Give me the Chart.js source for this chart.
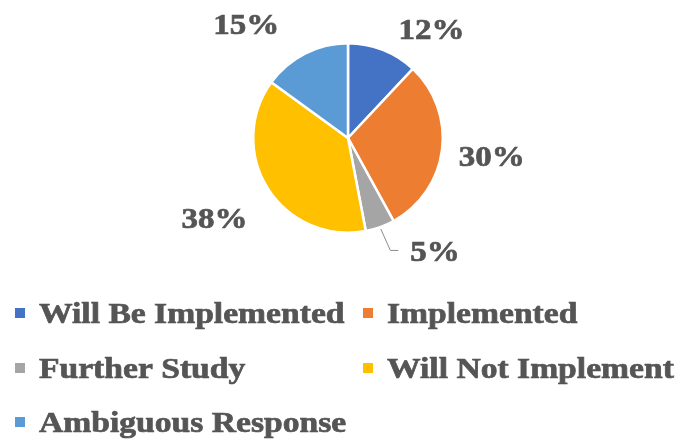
<!DOCTYPE html>
<html>
<head>
<meta charset="utf-8">
<script src="https://cdn.jsdelivr.net/npm/chart.js@4/dist/chart.umd.min.js"></script>
<style>
  html, body { margin: 0; padding: 0; background: #fff; }
  canvas { display: block; }
</style>
</head>
<body>
<canvas id="responseChart" width="678" height="441"></canvas>
<script>
const categories = ['Will Be Implemented', 'Implemented', 'Further Study', 'Will Not Implement', 'Ambiguous Response'];
const shares = [12, 30, 5, 38, 15];
const sliceColors = ['#4472C4', '#ED7D31', '#A5A5A5', '#FFC000', '#5B9BD5'];

const TEXT_COLOR = '#555555';
const FONT = 'bold 30px "Liberation Serif", "Times New Roman", serif';

// Excel "best fit" labels: push along the slice mid angle, then nudge
const labelStyle = {
  dist: 145,
  nudge: [[30, 26], [0, 0], [38, -23], [-11, 2], [-36, 15]],
  leader: [false, false, true, false, false],
};

// heavier text, like the blurred bold Times in the original
function boldText(ctx, text, x, y, sx) {
  ctx.save();
  ctx.translate(x, y);
  ctx.scale(sx, 1);
  ctx.fillText(text, 0, 0);
  ctx.lineWidth = 0.7;
  ctx.strokeStyle = ctx.fillStyle;
  ctx.strokeText(text, 0, 0);
  ctx.restore();
}

const outsideLabels = {
  id: 'outsideLabels',
  afterDatasetsDraw(chart) {
    const ctx = chart.ctx;
    const arcs = chart.getDatasetMeta(0).data;
    const total = shares.reduce((a, b) => a + b, 0);
    ctx.save();
    ctx.font = FONT;
    ctx.fillStyle = TEXT_COLOR;
    ctx.textAlign = 'center';
    ctx.textBaseline = 'alphabetic';
    arcs.forEach((arc, i) => {
      const { x, y, startAngle, endAngle, outerRadius } = arc.getProps(['x', 'y', 'startAngle', 'endAngle', 'outerRadius'], true);
      const mid = (startAngle + endAngle) / 2;
      const cx = x + Math.cos(mid) * labelStyle.dist + labelStyle.nudge[i][0];
      const cy = y + Math.sin(mid) * labelStyle.dist + labelStyle.nudge[i][1];
      const text = Math.round(shares[i] / total * 100) + '%';
      const w = ctx.measureText(text).width * 1.1;
      if (labelStyle.leader[i]) {
        const left = cx - w / 2;
        ctx.save();
        ctx.strokeStyle = '#8C8C8C';
        ctx.lineWidth = 1;
        ctx.beginPath();
        ctx.moveTo(x + Math.cos(mid) * (outerRadius + 2), y + Math.sin(mid) * (outerRadius + 2));
        ctx.lineTo(left - 20, cy - 1);
        ctx.lineTo(left - 12, cy - 1);
        ctx.stroke();
        ctx.restore();
      }
      boldText(ctx, text, cx, cy + 10, 1.1);
    });
    ctx.restore();
  },
};

const gridLegend = {
  id: 'gridLegend',
  afterDraw(chart) {
    const ctx = chart.ctx;
    const colX = [15, 363];
    const rowBase = [323, 378, 432];
    ctx.save();
    ctx.font = FONT;
    ctx.textBaseline = 'alphabetic';
    ctx.textAlign = 'left';
    categories.forEach((name, i) => {
      const x = colX[i % 2];
      const base = rowBase[Math.floor(i / 2)];
      ctx.fillStyle = sliceColors[i];
      ctx.fillRect(x, base - 15, 10, 10);
      ctx.fillStyle = TEXT_COLOR;
      boldText(ctx, name, x + 24, base, 1.12);
    });
    ctx.restore();
  },
};

new Chart(document.getElementById('responseChart'), {
  type: 'pie',
  data: {
    labels: categories,
    datasets: [{
      data: shares,
      backgroundColor: sliceColors,
      borderColor: '#ffffff',
      borderWidth: 2.5,
    }],
  },
  options: {
    responsive: false,
    animation: false,
    layout: { padding: { left: 252, right: 234, top: 42, bottom: 207 } },
    plugins: {
      legend: { display: false },
      tooltip: { enabled: false },
    },
  },
  plugins: [outsideLabels, gridLegend],
});
</script>
</body>
</html>
